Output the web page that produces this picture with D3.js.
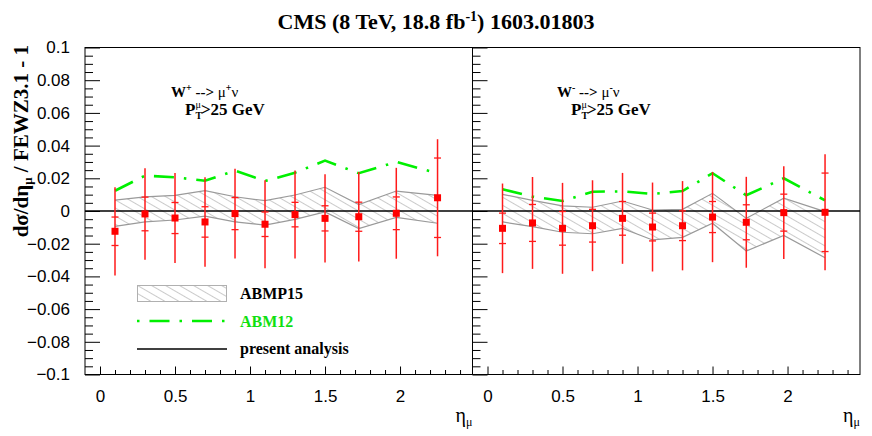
<!DOCTYPE html>
<html><head><meta charset="utf-8">
<script src="https://cdn.jsdelivr.net/npm/d3@7"></script>
<style>body{margin:0;background:#fff} svg{display:block}</style>
</head><body><svg id="c" width="872" height="436"></svg>
<script>
// ---- data ----
const eta = [0.1, 0.3, 0.5, 0.7, 0.9, 1.1, 1.3, 1.5, 1.725, 1.975, 2.25];

// W+ panel
const wpData   = [-0.0124, -0.0018, -0.0043, -0.0067, -0.0016, -0.0081, -0.0022, -0.0045, -0.0035, -0.0014, 0.0081];
const wpTot    = [0.0270, 0.0280, 0.0275, 0.0274, 0.0274, 0.0269, 0.0269, 0.0270, 0.0274, 0.0278, 0.0358];
const wpStat   = [0.0087, 0.0103, 0.0095, 0.0093, 0.0098, 0.0075, 0.0075, 0.0077, 0.0089, 0.0100, 0.0243];
const wpBandUp = [0.0067, 0.0086, 0.0096, 0.0124, 0.0087, 0.0063, 0.0098, 0.0145, 0.0039, 0.0122, 0.0096];
const wpBandLo = [-0.0094, -0.0067, -0.0055, -0.0031, -0.0067, -0.0086, -0.0051, -0.0006, -0.0108, -0.0039, -0.0075];
const wpABM12  = [0.0124, 0.0216, 0.0206, 0.0185, 0.0247, 0.0183, 0.0234, 0.0308, 0.0231, 0.0300, 0.0231];

// W- panel
const wmData   = [-0.0106, -0.0073, -0.0106, -0.0090, -0.0045, -0.0098, -0.0090, -0.0037, -0.0069, -0.0010, -0.0008];
const wmTot    = [0.0274, 0.0281, 0.0278, 0.0278, 0.0278, 0.0272, 0.0273, 0.0276, 0.0278, 0.0284, 0.0355];
const wmStat   = [0.0093, 0.0113, 0.0103, 0.0100, 0.0103, 0.0085, 0.0091, 0.0095, 0.0107, 0.0113, 0.0240];
const wmBandUp = [0.0102, 0.0065, 0.0031, 0.0023, 0.0061, 0.0006, 0.0010, 0.0108, -0.0045, 0.0078, -0.0004];
const wmBandLo = [-0.0067, -0.0096, -0.0130, -0.0139, -0.0106, -0.0177, -0.0161, -0.0075, -0.0245, -0.0149, -0.0286];
const wmABM12  = [0.0133, 0.0088, 0.0061, 0.0118, 0.0120, 0.0104, 0.0122, 0.0231, 0.0096, 0.0200, 0.0065];

// ticks
const yMajor = [-0.1, -0.08, -0.06, -0.04, -0.02, 0, 0.02, 0.04, 0.06, 0.08, 0.1];
const yLabels = ["\u22120.1", "\u22120.08", "\u22120.06", "\u22120.04", "\u22120.02", "0", "0.02", "0.04", "0.06", "0.08", "0.1"];
const xMajor = [0, 0.5, 1, 1.5, 2];
const xLabels = ["0", "0.5", "1", "1.5", "2"];

// ---- layout ----
const svg = d3.select("#c");
const yTop = 47.5, yBottom = 374.5;
const panels = [
  {x0: 85, x1: 472.5, data: wpData, tot: wpTot, stat: wpStat, up: wpBandUp, lo: wpBandLo, abm: wpABM12, sign: "+", labelX: 171, showYLabels: true},
  {x0: 472.5, x1: 860, data: wmData, tot: wmTot, stat: wmStat, up: wmBandUp, lo: wmBandLo, abm: wmABM12, sign: "-", labelX: 557, showYLabels: false}
];
const y = d3.scaleLinear().domain([-0.1, 0.1]).range([yBottom, yTop]);
const serif = "'Liberation Serif', 'Times New Roman', serif";
const sans = "'Liberation Sans', Arial, sans-serif";
const green = "#00f000";

const defs = svg.append("defs");
defs.append("pattern").attr("id", "hatch").attr("patternUnits", "userSpaceOnUse")
  .attr("width", 12).attr("height", 7).attr("patternTransform", "rotate(30)")
  .append("line").attr("x1", 0).attr("x2", 12).attr("y1", 3.5).attr("y2", 3.5)
  .attr("stroke", "#c4c4c4").attr("stroke-width", 0.9);

// title
const title = svg.append("text").attr("x", 436).attr("y", 29).attr("text-anchor", "middle")
  .attr("font-family", serif).attr("font-weight", "bold").attr("font-size", 22);
title.append("tspan").text("CMS (8 TeV, 18.8 fb");
title.append("tspan").attr("dy", -8).attr("font-size", 14).text("-1");
title.append("tspan").attr("dy", 8).text(") 1603.01803");

panels.forEach(p => {
  const x = d3.scaleLinear().domain([-0.1, 2.483]).range([p.x0, p.x1]);
  const g = svg.append("g");

  // band
  const area = d3.area().x((d, i) => x(eta[i])).y0((d, i) => y(p.lo[i])).y1((d, i) => y(p.up[i]));
  g.append("path").datum(eta).attr("d", area).attr("fill", "url(#hatch)");
  const lineUp = d3.line().x((d, i) => x(eta[i])).y((d, i) => y(p.up[i]));
  const lineLo = d3.line().x((d, i) => x(eta[i])).y((d, i) => y(p.lo[i]));
  g.append("path").datum(eta).attr("d", lineUp).attr("fill", "none").attr("stroke", "#9a9a9a").attr("stroke-width", 1.2);
  g.append("path").datum(eta).attr("d", lineLo).attr("fill", "none").attr("stroke", "#9a9a9a").attr("stroke-width", 1.2);

  // zero line
  g.append("line").attr("x1", x(-0.1)).attr("x2", x(2.483)).attr("y1", y(0)).attr("y2", y(0))
    .attr("stroke", "#000").attr("stroke-width", 1.3);

  // ABM12
  const lineA = d3.line().x((d, i) => x(eta[i])).y((d, i) => y(p.abm[i]));
  g.append("path").datum(eta).attr("d", lineA).attr("fill", "none").attr("stroke", green)
    .attr("stroke-width", 2.6).attr("stroke-dasharray", "20,10,2.5,10");

  // data error bars
  const pts = g.selectAll("g.pt").data(eta).join("g");
  pts.append("line").attr("x1", d => x(d)).attr("x2", d => x(d))
    .attr("y1", (d, i) => y(p.data[i] + p.tot[i])).attr("y2", (d, i) => y(p.data[i] - p.tot[i]))
    .attr("stroke", "#ff1a1a").attr("stroke-width", 1.5);
  [1, -1].forEach(s => {
    pts.append("line").attr("x1", d => x(d) - 3.5).attr("x2", d => x(d) + 3.5)
      .attr("y1", (d, i) => y(p.data[i] + s * p.stat[i])).attr("y2", (d, i) => y(p.data[i] + s * p.stat[i]))
      .attr("stroke", "#ff1a1a").attr("stroke-width", 1.3);
  });
  pts.append("rect").attr("x", d => x(d) - 3.5).attr("y", (d, i) => y(p.data[i]) - 3.5)
    .attr("width", 7).attr("height", 7).attr("fill", "#ff0000");

  // frame
  svg.append("rect").attr("x", p.x0).attr("y", yTop).attr("width", p.x1 - p.x0).attr("height", yBottom - yTop)
    .attr("fill", "none").attr("stroke", "#000").attr("stroke-width", 1);

  // y axis (ticks inward)
  const ya = svg.append("g").attr("transform", `translate(${p.x0},0)`)
    .call(d3.axisLeft(y).tickValues(yMajor).tickSize(-15).tickPadding(15)
      .tickFormat((d, i) => p.showYLabels ? yLabels[i] : ""));
  ya.select(".domain").remove();
  ya.selectAll("text").attr("font-family", sans).attr("font-size", 17).attr("fill", "#000");
  const yMinor = d3.range(-0.1, 0.1001, 0.005).filter(v => Math.abs(Math.round(v / 0.02) * 0.02 - v) > 1e-6);
  const ym = svg.append("g").attr("transform", `translate(${p.x0},0)`)
    .call(d3.axisLeft(y).tickValues(yMinor).tickSize(-8).tickFormat(""));
  ym.select(".domain").remove();

  // x axis (ticks inward)
  const xa = svg.append("g").attr("transform", `translate(0,${yBottom})`)
    .call(d3.axisBottom(x).tickValues(xMajor).tickSize(-8).tickPadding(15.5)
      .tickFormat((d, i) => xLabels[i]));
  xa.select(".domain").remove();
  xa.selectAll("text").attr("font-family", sans).attr("font-size", 17).attr("fill", "#000");
  const xMinor = d3.range(0.1, 2.45, 0.1).filter(v => Math.abs(Math.round(v * 2) / 2 - v) > 1e-6);
  const xm = svg.append("g").attr("transform", `translate(0,${yBottom})`)
    .call(d3.axisBottom(x).tickValues(xMinor).tickSize(-4.5).tickFormat(""));
  xm.select(".domain").remove();

  // x title
  const xt = svg.append("text").attr("x", p.x1).attr("y", 422).attr("text-anchor", "end")
    .attr("font-family", serif).attr("font-size", 20);
  xt.append("tspan").text("\u03b7");
  xt.append("tspan").attr("dy", 4).attr("font-size", 12).text("\u03bc");

  // process label
  const l1 = svg.append("text").attr("x", p.labelX).attr("y", 97)
    .attr("font-family", serif).attr("font-weight", "bold").attr("font-size", 15);
  l1.append("tspan").text("W");
  l1.append("tspan").attr("dy", -6).attr("font-size", 10).text(p.sign);
  l1.append("tspan").attr("dy", 6).text(" --> ");
  l1.append("tspan").attr("font-weight", "normal").text("\u03bc");
  l1.append("tspan").attr("dy", -6).attr("font-size", 10).text(p.sign);
  l1.append("tspan").attr("dy", 6).attr("font-weight", "normal").text("\u03bd");

  const px = p.labelX + 14;
  const pT = svg.append("text").attr("x", px).attr("y", 115)
    .attr("font-family", serif).attr("font-weight", "bold").attr("font-size", 17).text("P");
  const pw = pT.node().getComputedTextLength();
  svg.append("text").attr("x", px + pw).attr("y", 108).attr("font-family", serif)
    .attr("font-size", 10).text("\u03bc");
  svg.append("text").attr("x", px + pw).attr("y", 119).attr("font-family", serif).attr("font-weight", "bold")
    .attr("font-size", 10).text("T");
  svg.append("text").attr("x", px + pw + 5.5).attr("y", 115)
    .attr("font-family", serif).attr("font-weight", "bold").attr("font-size", 17).text(">25 GeV");
});

// y title
const yt = svg.append("text").attr("transform", "translate(28,45) rotate(-90)").attr("text-anchor", "end")
  .attr("font-family", serif).attr("font-weight", "bold").attr("font-size", 21);
yt.append("tspan").text("d\u03c3/d\u03b7");
yt.append("tspan").attr("dy", 4).attr("font-size", 13).text("\u03bc");
yt.append("tspan").attr("dy", -4).text(" / FEWZ3.1 - 1");

// legend
const lg = svg.append("g");
lg.append("rect").attr("x", 137.5).attr("y", 285.5).attr("width", 89).attr("height", 16)
  .attr("fill", "url(#hatch)").attr("stroke", "#b0b0b0").attr("stroke-width", 1);
lg.append("line").attr("x1", 137).attr("x2", 227).attr("y1", 321).attr("y2", 321)
  .attr("stroke", green).attr("stroke-width", 2.6).attr("stroke-dasharray", "2.5,10,20,10");
lg.append("line").attr("x1", 137).attr("x2", 227).attr("y1", 349).attr("y2", 349)
  .attr("stroke", "#000").attr("stroke-width", 1.5);
const legTexts = [["ABMP15", 299, "#000"], ["ABM12", 327, "#10e010"], ["present analysis", 354, "#000"]];
legTexts.forEach(t => {
  lg.append("text").attr("x", 240).attr("y", t[1]).attr("font-family", serif).attr("font-weight", "bold")
    .attr("font-size", 16).attr("fill", t[2]).text(t[0]);
});
</script></body></html>
